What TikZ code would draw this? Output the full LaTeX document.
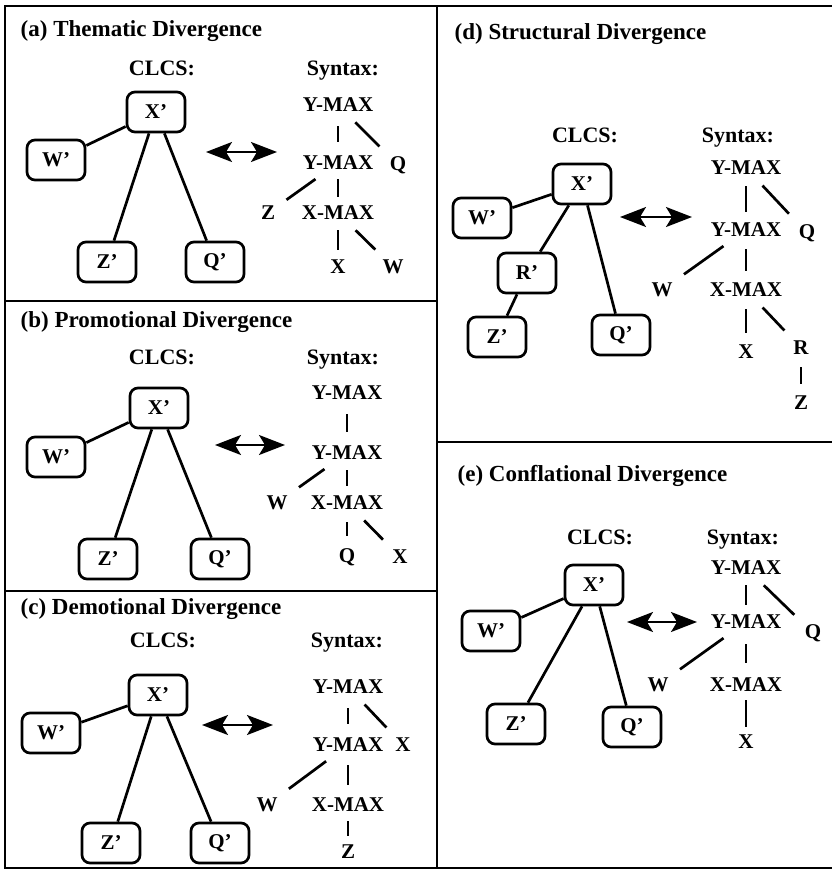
\documentclass[tikz,border=0pt]{standalone}
\usepackage{fontspec}
\setmainfont{Liberation Serif}
\usetikzlibrary{arrows.meta}

\begin{document}
\begin{tikzpicture}[x=1pt,y=-1pt,line width=2.7pt,
        every node/.style={font=\bfseries\fontsize{21}{25}\selectfont},
        paneltitle/.style={anchor=west,text depth=0pt,font=\bfseries\fontsize{23}{27}\selectfont},
        side/.style={text depth=0pt,font=\bfseries\fontsize{22}{26}\selectfont},
        clcs/.style={draw,rounded corners=8pt,minimum width=58pt,minimum height=40pt,inner sep=2pt},
        syn/.style={inner sep=2pt},
        branch/.style={shorten <=#1,shorten >=#1},
        branch/.default=10pt,
        corr/.style={{Stealth[length=26pt,width=20pt,inset=6pt]}-{Stealth[length=26pt,width=20pt,inset=6pt]},line width=2pt},
        panelframe/.style={line width=2.5pt}]
    \useasboundingbox (0,0) rectangle (831,870);

    % panel borders
    \draw[panelframe] (5,6) rectangle (836,868);
    \draw[panelframe] (437,6) -- (437,868);
    \draw[panelframe] (5,301) -- (437,301);
    \draw[panelframe] (5,591) -- (437,591);
    \draw[panelframe] (437,442) -- (836,442);

    % (a)
    \node[paneltitle] (ta) at (16,29) {(a) Thematic Divergence};
    \node[side] (ca) at (162,68) {CLCS:};
    \node[side] (sa) at (343,68) {Syntax:};
    \node[clcs] (xa) at (156,112) {X'};
    \node[clcs] (wa) at (56,160) {W'};
    \node[clcs] (za) at (107,262) {Z'};
    \node[clcs] (qa) at (215,262) {Q'};
    \draw (xa) -- (wa);
    \draw (xa) -- (za);
    \draw (xa) -- (qa);
    \coordinate (la) at (206,152);
    \coordinate (ra) at (277,152);
    \draw[corr] (la) -- (ra);
    \node[syn] (ya1) at (338,105) {Y-MAX};
    \node[syn] (ya2) at (338,163) {Y-MAX};
    \node[syn] (qsa) at (398,165) {Q};
    \node[syn] (zsa) at (268,213) {Z};
    \node[syn] (xma) at (338,213) {X-MAX};
    \node[syn] (xsa) at (338,267) {X};
    \node[syn] (wsa) at (393,267) {W};
    \draw[branch=11pt] (ya1) -- (ya2);
    \draw[branch] (ya1) -- (qsa);
    \draw[branch] (ya2) -- (zsa);
    \draw[branch=6pt] (ya2) -- (xma);
    \draw[branch=7pt] (xma) -- (xsa);
    \draw[branch] (xma) -- (wsa);

    % (b)
    \node[paneltitle] (tb) at (16,320) {(b) Promotional Divergence};
    \node[side] (cb) at (162,357) {CLCS:};
    \node[side] (sb) at (343,357) {Syntax:};
    \node[clcs] (xb) at (159,408) {X'};
    \node[clcs] (wb) at (56,457) {W'};
    \node[clcs] (zb) at (108,559) {Z'};
    \node[clcs] (qb) at (220,559) {Q'};
    \draw (xb) -- (wb);
    \draw (xb) -- (zb);
    \draw (xb) -- (qb);
    \coordinate (lb) at (215,445);
    \coordinate (rb) at (285,445);
    \draw[corr] (lb) -- (rb);
    \node[syn] (yb1) at (347,393) {Y-MAX};
    \node[syn] (yb2) at (347,453) {Y-MAX};
    \node[syn] (wsb) at (277,503) {W};
    \node[syn] (xmb) at (347,503) {X-MAX};
    \node[syn] (qsb) at (347,557) {Q};
    \node[syn] (xsb) at (400,557) {X};
    \draw[branch=11pt] (yb1) -- (yb2);
    \draw[branch] (yb2) -- (wsb);
    \draw[branch=7pt] (yb2) -- (xmb);
    \draw[branch=9pt] (xmb) -- (qsb);
    \draw[branch] (xmb) -- (xsb);

    % (c)
    \node[paneltitle] (tc) at (16,607) {(c) Demotional Divergence};
    \node[side] (cc) at (163,640) {CLCS:};
    \node[side] (sc) at (347,640) {Syntax:};
    \node[clcs] (xc) at (158,695) {X'};
    \node[clcs] (wc) at (51,733) {W'};
    \node[clcs] (zc) at (111,843) {Z'};
    \node[clcs] (qc) at (220,843) {Q'};
    \draw (xc) -- (wc);
    \draw (xc) -- (zc);
    \draw (xc) -- (qc);
    \coordinate (lc) at (202,725);
    \coordinate (rc) at (273,725);
    \draw[corr] (lc) -- (rc);
    \node[syn] (yc1) at (348,687) {Y-MAX};
    \node[syn] (yc2) at (348,745) {Y-MAX};
    \node[syn] (xsc) at (403,745) {X};
    \node[syn] (wsc) at (267,805) {W};
    \node[syn] (xmc) at (348,805) {X-MAX};
    \node[syn] (zsc) at (348,852) {Z};
    \draw[branch=11pt] (yc1) -- (yc2);
    \draw[branch] (yc1) -- (xsc);
    \draw[branch] (yc2) -- (wsc);
    \draw[branch=10pt] (yc2) -- (xmc);
    \draw[branch=6pt] (xmc) -- (zsc);

    % (d)
    \node[paneltitle] (td) at (450,32) {(d) Structural Divergence};
    \node[side] (cd) at (585,135) {CLCS:};
    \node[side] (sd) at (738,135) {Syntax:};
    \node[clcs] (xd) at (582,184) {X'};
    \node[clcs] (wd) at (482,218) {W'};
    \node[clcs] (rd) at (527,273) {R'};
    \node[clcs] (zd) at (497,337) {Z'};
    \node[clcs] (qd) at (621,335) {Q'};
    \draw (xd) -- (wd);
    \draw (xd) -- (rd);
    \draw (xd) -- (qd);
    \draw (rd) -- (zd);
    \coordinate (ld) at (620,217);
    \coordinate (rrd) at (692,217);
    \draw[corr] (ld) -- (rrd);
    \node[syn] (yd1) at (746,168) {Y-MAX};
    \node[syn] (yd2) at (746,230) {Y-MAX};
    \node[syn] (qsd) at (807,233) {Q};
    \node[syn] (wsd) at (662,290) {W};
    \node[syn] (xmd) at (746,290) {X-MAX};
    \node[syn] (xsd) at (746,352) {X};
    \node[syn] (rsd) at (801,348) {R};
    \node[syn] (zsd) at (801,403) {Z};
    \draw[branch=8pt] (yd1) -- (yd2);
    \draw[branch] (yd1) -- (qsd);
    \draw[branch] (yd2) -- (wsd);
    \draw[branch=9pt] (yd2) -- (xmd);
    \draw[branch=9pt] (xmd) -- (xsd);
    \draw[branch] (xmd) -- (rsd);
    \draw[branch=9pt] (rsd) -- (zsd);

    % (e)
    \node[paneltitle] (te) at (453,473) {(e) Conflational Divergence};
    \node[side] (ce) at (600,537) {CLCS:};
    \node[side] (se) at (743,537) {Syntax:};
    \node[clcs] (xe) at (594,585) {X'};
    \node[clcs] (we) at (491,631) {W'};
    \node[clcs] (ze) at (516,724) {Z'};
    \node[clcs] (qe) at (632,727) {Q'};
    \draw (xe) -- (we);
    \draw (xe) -- (ze);
    \draw (xe) -- (qe);
    \coordinate (le) at (627,622);
    \coordinate (re) at (697,622);
    \draw[corr] (le) -- (re);
    \node[syn] (ye1) at (746,568) {Y-MAX};
    \node[syn] (ye2) at (746,622) {Y-MAX};
    \node[syn] (qse) at (813,633) {Q};
    \node[syn] (wse) at (658,685) {W};
    \node[syn] (xme) at (746,685) {X-MAX};
    \node[syn] (xse) at (746,742) {X};
    \draw[branch=7pt] (ye1) -- (ye2);
    \draw[branch] (ye1) -- (qse);
    \draw[branch] (ye2) -- (wse);
    \draw[branch=12pt] (ye2) -- (xme);
    \draw[branch=5pt] (xme) -- (xse);
\end{tikzpicture}
\end{document}
